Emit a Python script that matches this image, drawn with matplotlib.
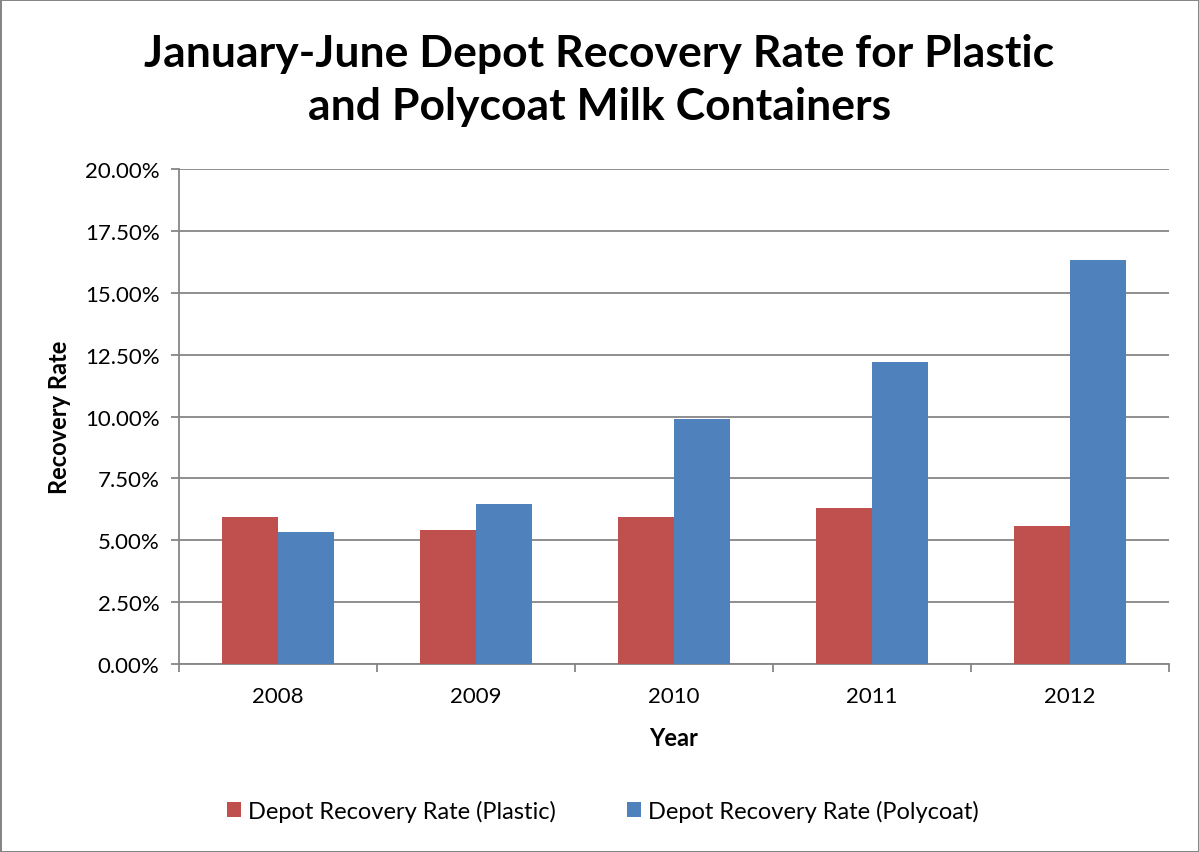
import numpy as np
import matplotlib.pyplot as plt
from matplotlib.ticker import FuncFormatter, FixedLocator

years = ['2008', '2009', '2010', '2011', '2012']
plastic = [5.93, 5.41, 5.92, 6.30, 5.56]
polycoat = [5.32, 6.45, 9.89, 12.19, 16.34]

plt.rcParams['font.family'] = ['Lato', 'DejaVu Sans']

fig = plt.figure(figsize=(11.99, 8.53), dpi=100)
fig.patch.set_edgecolor('#868686')
fig.patch.set_linewidth(2)
ax = fig.add_axes([0.1493, 0.2204, 0.8257, 0.5803])

x = np.arange(len(years))
w = 0.285
ax.bar(x - w / 2, plastic, w, color='#C0504D', label='Depot Recovery Rate (Plastic)', zorder=3)
ax.bar(x + w / 2, polycoat, w, color='#4F81BD', label='Depot Recovery Rate (Polycoat)', zorder=3)

ax.set_xlim(-0.5, len(years) - 0.5)
ax.set_ylim(0, 20)
ax.set_yticks(np.arange(0, 20.01, 2.5))
ax.yaxis.set_major_formatter(FuncFormatter(lambda v, p: '%.2f%%' % v))
ax.grid(axis='y', color='#868686', linewidth=1.3, zorder=0)

ax.set_xticks(x)
ax.set_xticklabels(years)
ax.xaxis.set_minor_locator(FixedLocator(np.arange(-0.5, len(years), 1.0)))
ax.tick_params(axis='x', which='major', length=0, pad=16, labelsize=16)
ax.tick_params(axis='x', which='minor', length=6, color='#868686', width=1.3)
ax.tick_params(axis='y', length=6, color='#868686', width=1.3, labelsize=16, pad=8)

for s in ['top', 'right']:
    ax.spines[s].set_visible(False)
for s in ['left', 'bottom']:
    ax.spines[s].set_color('#868686')
    ax.spines[s].set_linewidth(1.3)

ax.set_xlabel('Year', fontsize=17, fontweight='bold', labelpad=14)
ax.set_ylabel('Recovery Rate', fontsize=17, fontweight='bold', labelpad=10)

fig.suptitle('January-June Depot Recovery Rate for Plastic\nand Polycoat Milk Containers',
             fontsize=32, fontweight='bold', y=0.96, linespacing=1.4)

ax.legend(loc='center', bbox_to_anchor=(0.428, -0.297), ncol=2, frameon=False,
          fontsize=17, handlelength=0.6, handleheight=0.6, columnspacing=3.0, handletextpad=0.3)

fig.savefig('out.png', dpi=100, edgecolor=fig.get_edgecolor())
